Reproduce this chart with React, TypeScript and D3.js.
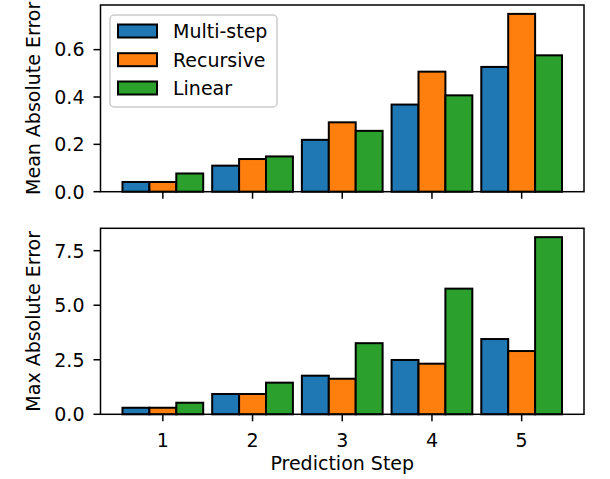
import React from 'react'
import * as d3 from 'd3'

const steps = [1, 2, 3, 4, 5]
const seriesNames = ['Multi-step', 'Recursive', 'Linear']
const colors = ['#1f77b4', '#ff7f0e', '#2ca02c']

const meanMultiStep = [0.041, 0.11, 0.219, 0.368, 0.527]
const meanRecursive = [0.041, 0.138, 0.293, 0.507, 0.751]
const meanLinear = [0.077, 0.149, 0.257, 0.407, 0.576]

const maxMultiStep = [0.3, 0.93, 1.77, 2.49, 3.45]
const maxRecursive = [0.3, 0.93, 1.63, 2.32, 2.9]
const maxLinear = [0.53, 1.45, 3.26, 5.76, 8.12]

const meanTicks = [0, 0.2, 0.4, 0.6]
const maxTicks = [0, 2.5, 5, 7.5]

const W = 610
const H = 479
const FONT = 'DejaVu Sans, sans-serif'
const FS = 19
const left = 100.5
const right = 584
const barW = 0.3

const x = d3.scaleLinear().domain([0.305, 5.695]).range([left, right])

interface PanelProps {
  top: number
  bottom: number
  series: number[][]
  ticks: number[]
  fmt: (v: number) => string
  label: string
  showXLabels: boolean
}

const Panel: React.FC<PanelProps> = ({ top, bottom, series, ticks, fmt, label, showXLabels }) => {
  const ymax = (d3.max(series.flat()) as number) * 1.05
  const y = d3.scaleLinear().domain([0, ymax]).range([bottom, top])
  return (
    <g>
      {series.map((vals, si) =>
        vals.map((v, i) => {
          const x0 = x(steps[i] + (si - 1) * barW - barW / 2)
          const x1 = x(steps[i] + (si - 1) * barW + barW / 2)
          return (
            <rect
              key={`${si}-${i}`}
              x={x0}
              y={y(v)}
              width={x1 - x0}
              height={y(0) - y(v)}
              fill={colors[si]}
              stroke="#000"
              strokeWidth={2}
            />
          )
        })
      )}
      <rect x={left} y={top} width={right - left} height={bottom - top} fill="none" stroke="#000" strokeWidth={1.5} />
      {ticks.map((t) => (
        <g key={t}>
          <line x1={left - 7} x2={left} y1={y(t)} y2={y(t)} stroke="#000" strokeWidth={1.5} />
          <text x={left - 16} y={y(t)} dy="0.36em" textAnchor="end" fontSize={FS} fontFamily={FONT} fill="#000">
            {fmt(t)}
          </text>
        </g>
      ))}
      {steps.map((s) => (
        <g key={s}>
          <line x1={x(s)} x2={x(s)} y1={bottom} y2={bottom + 7} stroke="#000" strokeWidth={1.5} />
          {showXLabels && (
            <text x={x(s)} y={447} textAnchor="middle" fontSize={FS} fontFamily={FONT} fill="#000">
              {s}
            </text>
          )}
        </g>
      ))}
      <text
        transform={`translate(40,${(top + bottom) / 2}) rotate(-90)`}
        textAnchor="middle"
        fontSize={FS}
        fontFamily={FONT}
        fill="#000"
      >
        {label}
      </text>
    </g>
  )
}

export default function App() {
  const rows = [31, 59.7, 88]
  return (
    <svg
      width={W}
      height={H}
      viewBox={`0 0 ${W} ${H}`}
      style={{ position: 'absolute', left: 0, top: 0, background: '#fff' }}
    >
      <rect width={W} height={H} fill="#fff" />
      <Panel
        top={5}
        bottom={191.7}
        series={[meanMultiStep, meanRecursive, meanLinear]}
        ticks={meanTicks}
        fmt={d3.format('.1f')}
        label="Mean Absolute Error"
        showXLabels={false}
      />
      <Panel
        top={228.3}
        bottom={414.3}
        series={[maxMultiStep, maxRecursive, maxLinear]}
        ticks={maxTicks}
        fmt={d3.format('.1f')}
        label="Max Absolute Error"
        showXLabels={true}
      />
      <text x={(left + right) / 2} y={470} textAnchor="middle" fontSize={FS} fontFamily={FONT} fill="#000">
        Prediction Step
      </text>
      {/* legend */}
      <rect x={110} y={15} width={167} height={92} rx={4} fill="#fff" fillOpacity={0.8} stroke="#cccccc" strokeWidth={1.5} />
      {seriesNames.map((n, i) => (
        <g key={n}>
          <rect x={118} y={rows[i] - 6.5} width={39} height={13} fill={colors[i]} stroke="#000" strokeWidth={2} />
          <text x={173} y={rows[i]} dy="0.36em" fontSize={FS} fontFamily={FONT} fill="#000">
            {n}
          </text>
        </g>
      ))}
    </svg>
  )
}
